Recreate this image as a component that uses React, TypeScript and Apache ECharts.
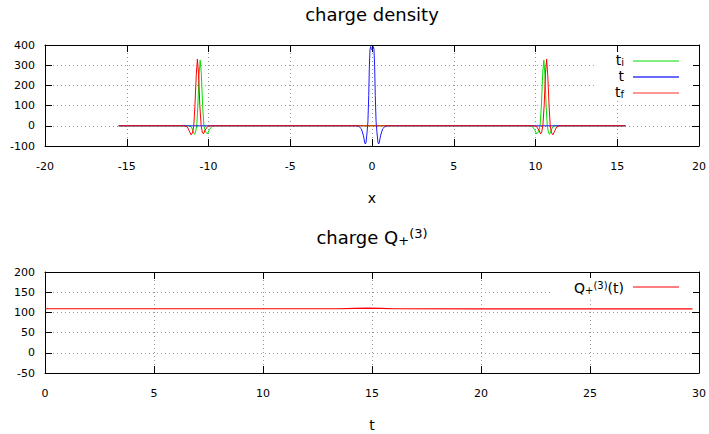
import React, { useEffect, useRef } from "react";
import * as echarts from "echarts";

// ---- data ----
const X_MIN = -20, X_MAX = 20, X_STEP = 5;
const RHO_MIN = -100, RHO_MAX = 400, RHO_STEP = 100;
const T_MIN = 0, T_MAX = 30, T_STEP = 5;
const Q_MIN = -50, Q_MAX = 200, Q_STEP = 50;

// t_i (green)
const tiX = [-15.5, -11.2, -11.05, -10.95, -10.86, -10.8, -10.72, -10.65, -10.58, -10.51, -10.44, -10.36, -10.28, -10.18, -10.07, -9.95, -9.8, -9.6,
  9.6, 9.8, 9.95, 10.07, 10.18, 10.28, 10.36, 10.44, 10.51, 10.58, 10.65, 10.72, 10.8, 10.86, 10.95, 11.05, 11.2, 15.5];
const tiY = [0, 0, -5, -25, -42, -35, 0, 100, 250, 325, 260, 100, 0, -30, -40, -20, -3, 0,
  0, -3, -20, -40, -30, 0, 100, 260, 325, 250, 100, 0, -35, -42, -25, -5, 0, 0];

// t (blue)
const tX = [-15.5, -1.0, -0.8, -0.65, -0.52, -0.44, -0.4, -0.36, -0.3, -0.25, -0.2, -0.16, -0.12, -0.08, -0.04, 0,
  0.04, 0.08, 0.12, 0.16, 0.2, 0.25, 0.3, 0.36, 0.4, 0.44, 0.52, 0.65, 0.8, 1.0, 15.5];
const tY = [0, 0, -3, -15, -50, -85, -90, -80, -30, 20, 150, 300, 380, 392, 382, 376,
  382, 392, 380, 300, 150, 20, -30, -80, -90, -85, -50, -15, -3, 0, 0];

// t_f (red)
const tfX = [-15.5, -11.5, -11.3, -11.15, -11.06, -10.98, -10.9, -10.83, -10.75, -10.68, -10.61, -10.53, -10.45, -10.38, -10.31, -10.2, -10.05, -9.9,
  9.9, 10.05, 10.2, 10.31, 10.38, 10.45, 10.53, 10.61, 10.68, 10.75, 10.83, 10.9, 10.98, 11.06, 11.15, 11.3, 11.5, 15.5];
const tfY = [0, 0, -5, -30, -45, -35, 0, 100, 250, 330, 260, 100, 0, -30, -40, -20, -3, 0,
  0, -3, -20, -40, -30, 0, 100, 260, 330, 250, 100, 0, -35, -45, -30, -5, 0, 0];

// Q_+^(3)(t)
const qT = [0, 5, 10, 13.5, 14.2, 14.8, 15.4, 16, 20, 25, 29.7];
const qV = [109, 109, 109, 109, 110, 110.8, 110, 109, 108.8, 108.8, 108.8];

const zip = (a: number[], b: number[]) => a.map((v, i) => [v, b[i]]);

const FONT = "DejaVu Sans";

function xAxisPair(grid: number, min: number, max: number, step: number, name: string) {
  const common = {
    gridIndex: grid, type: "value", min, max, interval: step,
    axisLine: { show: true, onZero: false, lineStyle: { color: "#000", width: 1 } },
    axisTick: { show: true, inside: true, length: 7, lineStyle: { color: "#000" } },
  };
  return [
    {
      ...common, position: "bottom",
      axisLabel: { show: true, margin: 15, fontSize: 11, color: "#000", fontFamily: FONT },
      splitLine: { show: true, lineStyle: { color: "#9a9a9a", type: [1, 3], width: 1 } },
      name, nameLocation: "middle", nameGap: 45,
      nameTextStyle: { fontSize: 14, color: "#000", fontFamily: FONT },
    },
    { ...common, position: "top", axisLabel: { show: false }, splitLine: { show: false } },
  ];
}

function yAxisPair(grid: number, min: number, max: number, step: number) {
  const common = {
    gridIndex: grid, type: "value", min, max, interval: step,
    axisLine: { show: true, onZero: false, lineStyle: { color: "#000", width: 1 } },
    axisTick: { show: true, inside: true, length: 7, lineStyle: { color: "#000" } },
  };
  return [
    {
      ...common, position: "left",
      axisLabel: { show: true, margin: 10, fontSize: 11, color: "#000", fontFamily: FONT },
      splitLine: { show: true, lineStyle: { color: "#9a9a9a", type: [1, 3], width: 1 } },
    },
    { ...common, position: "right", axisLabel: { show: false }, splitLine: { show: false } },
  ];
}

export default function App() {
  const ref = useRef<HTMLDivElement>(null);
  useEffect(() => {
    if (!ref.current) return;
    const chart = echarts.init(ref.current, null, { renderer: "svg" });
    const subStyle = { fontSize: 10, lineHeight: 3, verticalAlign: "bottom", fontFamily: FONT, fill: "#000" };
    const supStyle = { fontSize: 10, lineHeight: 3, verticalAlign: "top", fontFamily: FONT, fill: "#000" };
    const legendText = (text: string, x: number, y: number) => ({
      type: "text", z: 101,
      style: {
        text, x, y, align: "right", verticalAlign: "middle",
        fontSize: 14, lineHeight: 15, fontFamily: FONT, fill: "#000",
        rich: { sub: subStyle, sup: supStyle },
      },
    });
    const legendLine = (y: number, color: string, w = 1.2) => ({
      type: "line", z: 101,
      shape: { x1: 633, y1: y, x2: 679, y2: y },
      style: { stroke: color, lineWidth: w },
    });
    const option: any = {
      animation: false,
      backgroundColor: "#fff",
      grid: [
        { left: 45, top: 45, width: 654, height: 101, containLabel: false },
        { left: 45, top: 272, width: 654, height: 101, containLabel: false },
      ],
      xAxis: [
        ...xAxisPair(0, X_MIN, X_MAX, X_STEP, "x"),
        ...xAxisPair(1, T_MIN, T_MAX, T_STEP, "t"),
      ],
      yAxis: [
        ...yAxisPair(0, RHO_MIN, RHO_MAX, RHO_STEP),
        ...yAxisPair(1, Q_MIN, Q_MAX, Q_STEP),
      ],
      series: [
        { name: "t_i", type: "line", xAxisIndex: 0, yAxisIndex: 0, data: zip(tiX, tiY), showSymbol: false, symbol: "none", lineStyle: { color: "#00e000", width: 1 }, z: 2 },
        { name: "t", type: "line", xAxisIndex: 0, yAxisIndex: 0, data: zip(tX, tY), showSymbol: false, symbol: "none", lineStyle: { color: "#1a1aff", width: 1 }, z: 3 },
        { name: "t_f", type: "line", xAxisIndex: 0, yAxisIndex: 0, data: zip(tfX, tfY), showSymbol: false, symbol: "none", lineStyle: { color: "#ff0000", width: 1 }, z: 4 },
        { name: "Q", type: "line", xAxisIndex: 2, yAxisIndex: 2, data: zip(qT, qV), showSymbol: false, symbol: "none", lineStyle: { color: "#ff0000", width: 1.2 }, z: 4 },
      ],
      graphic: [
        {
          type: "text", z: 101,
          style: { text: "charge density", x: 372, y: 14, align: "center", verticalAlign: "middle", fontSize: 18, fontFamily: FONT, fill: "#000" },
        },
        {
          type: "text", z: 101,
          style: {
            text: "charge Q{sub2|+}{sup2|(3)}", x: 372, y: 237, align: "center", verticalAlign: "middle",
            fontSize: 18, lineHeight: 20, fontFamily: FONT, fill: "#000",
            rich: {
              sub2: { fontSize: 13, lineHeight: 4, verticalAlign: "bottom", fontFamily: FONT, fill: "#000" },
              sup2: { fontSize: 13, lineHeight: 4, verticalAlign: "top", fontFamily: FONT, fill: "#000" },
            },
          },
        },
        { type: "rect", z: 100, shape: { x: 597, y: 52, width: 96, height: 48 }, style: { fill: "#fff" } },
        legendText("t{sub|i}", 624, 60),
        legendLine(61, "#00e000"),
        legendText("t", 624, 76),
        legendLine(77, "#6b6bff", 2),
        legendText("t{sub|f}", 624, 92),
        legendLine(93, "#ff3030"),
        { type: "rect", z: 100, shape: { x: 552, y: 278, width: 141, height: 21 }, style: { fill: "#fff" } },
        legendText("Q{sub|+}{sup|(3)}(t)", 624, 288),
        legendLine(287, "#ff0000"),
      ],
    };
    chart.setOption(option);
    return () => chart.dispose();
  }, []);
  return <div ref={ref} style={{ position: "absolute", left: 0, top: 0, width: 709, height: 434 }} />;
}
